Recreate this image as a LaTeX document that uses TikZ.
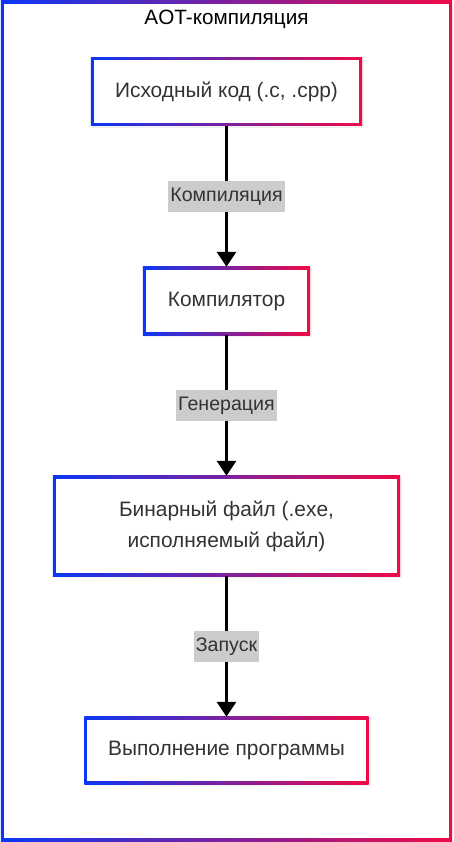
\documentclass[tikz,border=0pt]{standalone}
\usepackage{fontspec}
\setmainfont{Liberation Sans}
\usetikzlibrary{arrows.meta,backgrounds}
\definecolor{gbl}{RGB}{10,55,245}
\definecolor{grd}{RGB}{240,10,70}
\definecolor{txt}{RGB}{51,51,51}
\definecolor{labbg}{RGB}{204,204,204}
\tikzset{
  x=1pt,y=1pt,
  stepbox/.style={rectangle,draw=none,inner sep=0pt,text=txt,font=\fontsize{20.9}{31}\selectfont,align=center},
  edgelab/.style={rectangle,fill=labbg,text=txt,inner xsep=2pt,inner ysep=0pt,minimum height=31pt,font=\fontsize{19.6}{22}\selectfont},
  arr/.style={line width=3pt,black,-{Triangle[width=19pt,length=15pt]}},
}
\newcommand{\gradbox}[2]{%
  \fill[black,opacity=0.06] ([shift={(1,-2)}]#1.south west) rectangle ([shift={(2,0)}]#1.north east);
  \shade[left color=gbl,right color=grd] (#1.south west) rectangle (#1.north east);
  \fill[white] ([shift={(#2,#2)}]#1.south west) rectangle ([shift={(-#2,-#2)}]#1.north east);
}
\begin{document}
\begin{tikzpicture}
\useasboundingbox (0,0) rectangle (453,-842);
% outer frame
\node[draw=none,inner sep=0pt,minimum width=451pt,minimum height=840pt] (frame) at (226.5,-421) {};
\node[font=\fontsize{20.7}{24}\selectfont,text=black] (title) at (226.5,-19) {AOT-компиляция};
\node[stepbox,minimum width=271pt,minimum height=68pt] (n1) at (226.5,-91.5) {Исходный код (.c, .cpp)};
\node[stepbox,minimum width=167pt,minimum height=68pt] (n2) at (226.5,-301) {Компилятор};
\node[stepbox,minimum width=347pt,minimum height=100pt] (n3) at (226.5,-526) {Бинарный файл (.exe,\\исполняемый файл)};
\node[stepbox,minimum width=284pt,minimum height=67pt] (n4) at (226.5,-750.5) {Выполнение программы};
\begin{scope}[on background layer]
  \shade[left color=gbl,right color=grd] (frame.south west) rectangle (frame.north east);
  \fill[white] ([shift={(3,3)}]frame.south west) rectangle ([shift={(-3,-3)}]frame.north east);
  \gradbox{n1}{3}
  \gradbox{n2}{3}
  \gradbox{n3}{3}
  \gradbox{n4}{3}
\end{scope}
\draw[arr] (n1.south) -- node[edgelab] (l1) {Компиляция} (n2.north);
\draw[arr] (n2.south) -- node[edgelab] (l2) {Генерация} (n3.north);
\draw[arr] (n3.south) -- node[edgelab] (l3) {Запуск} (n4.north);
\end{tikzpicture}
\end{document}
